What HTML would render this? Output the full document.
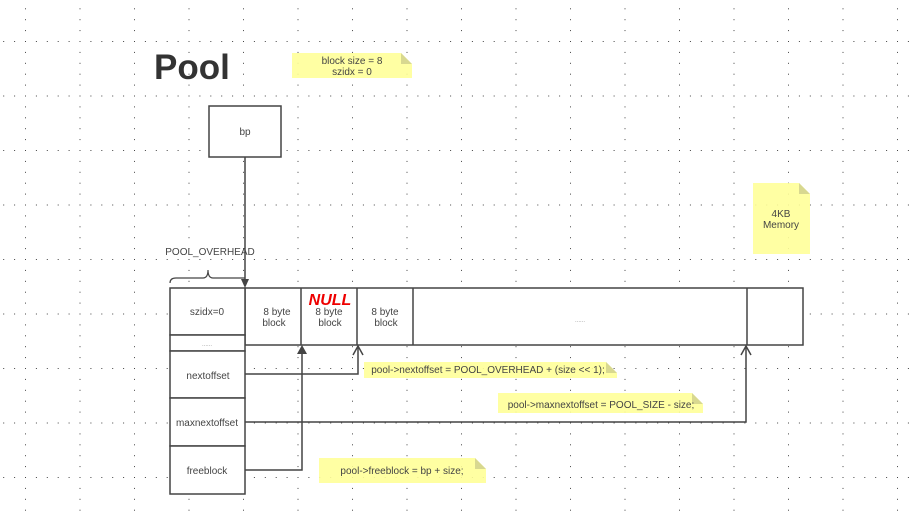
<!DOCTYPE html>
<html><head><meta charset="utf-8"><style>
html,body{margin:0;padding:0;background:#fff;}
svg{display:block;}
text{font-family:"Liberation Sans",sans-serif;}
</style></head><body>
<svg width="918" height="518" viewBox="0 0 918 518" xmlns="http://www.w3.org/2000/svg">
<defs>
<pattern id="g" patternUnits="userSpaceOnUse" x="25" y="41" width="54.5" height="54.5">
<g fill="#444">
<rect x="0" y="0" width="1" height="1"/><rect x="0" y="10.9" width="1" height="1"/><rect x="0" y="21.8" width="1" height="1"/><rect x="0" y="32.7" width="1" height="1"/><rect x="0" y="43.6" width="1" height="1"/>
<rect x="10.9" y="0" width="1" height="1"/><rect x="21.8" y="0" width="1" height="1"/><rect x="32.7" y="0" width="1" height="1"/><rect x="43.6" y="0" width="1" height="1"/>
</g>
</pattern>
</defs>
<rect width="918" height="518" fill="url(#g)"/>

<text x="154" y="79" font-size="35" font-weight="bold" fill="#333">Pool</text>

<!-- notes -->
<g fill="#ffff99" opacity="0.9">
<path d="M292 53 H401 L412 64 V78 H292 Z"/>
<path d="M753 183 H799 L810 194 V254 H753 Z"/>
<path d="M364 362 H606 L617 373 V378 H364 Z"/>
<path d="M498 393 H692 L703 404 V413 H498 Z"/>
<path d="M319 458 H475 L486 469 V483 H319 Z"/>
</g>
<g fill="#d8d890">
<path d="M401 53 L412 64 H401 Z"/><path d="M799 183 L810 194 H799 Z"/><path d="M606 362 L617 373 H606 Z"/><path d="M692 393 L703 404 H692 Z"/><path d="M475 458 L486 469 H475 Z"/>
</g>
<g font-size="10" fill="#444" text-anchor="middle">
<text x="352" y="64">block size = 8</text><text x="352" y="75">szidx = 0</text>
<text x="781" y="217">4KB</text><text x="781" y="228">Memory</text>
<text x="488" y="373">pool-&gt;nextoffset = POOL_OVERHEAD + (size &lt;&lt; 1);</text>
<text x="601" y="408">pool-&gt;maxnextoffset = POOL_SIZE - size;</text>
<text x="402" y="474">pool-&gt;freeblock = bp + size;</text>
</g>

<g fill="#fff" stroke="#444" stroke-width="1.5">
<rect x="209" y="106" width="72" height="51"/>
<rect x="245" y="288" width="558" height="57"/>
<rect x="170" y="288" width="75" height="47"/>
<rect x="170" y="335" width="75" height="16"/>
<rect x="170" y="351" width="75" height="47"/>
<rect x="170" y="398" width="75" height="48"/>
<rect x="170" y="446" width="75" height="48"/>
</g>
<g stroke="#444" stroke-width="1.5" fill="none">
<line x1="301" y1="288" x2="301" y2="345"/><line x1="357" y1="288" x2="357" y2="345"/><line x1="413" y1="288" x2="413" y2="345"/><line x1="747" y1="288" x2="747" y2="345"/>
<line x1="245" y1="157" x2="245" y2="280"/>
<path d="M245 374 H358 V346"/><path d="M353 355 L358 346 L363 355"/>
<path d="M245 470 H302 V352"/>
<path d="M245 422 H746 V346"/><path d="M741 355 L746 346 L751 355"/>
<path d="M170 283 Q170 278 176 278 H203 Q208 278 208 270 Q208 278 213 278 H245" stroke-width="1.2"/>
</g>
<path d="M241 279 L249 279 L245 288 Z" fill="#444"/>
<path d="M297 354 L307 354 L302 345 Z" fill="#444"/>

<g font-size="10" fill="#444" text-anchor="middle">
<text x="210" y="255" font-size="10">POOL_OVERHEAD</text>
<text x="277" y="315">8 byte</text><text x="274" y="326">block</text>
<text x="329" y="315">8 byte</text><text x="330" y="326">block</text>
<text x="385" y="315">8 byte</text><text x="386" y="326">block</text>
<text x="580" y="322" font-size="6" fill="#999">......</text>
<text x="207" y="315">szidx=0</text>
<text x="207" y="346" font-size="6" fill="#999">......</text>
<text x="208" y="379">nextoffset</text>
<text x="207" y="426">maxnextoffset</text>
<text x="207" y="474">freeblock</text>
<text x="245" y="135">bp</text>
</g>
<text x="330" y="305" font-size="16" font-weight="bold" font-style="italic" fill="#ee0000" text-anchor="middle">NULL</text>
</svg>
</body></html>
